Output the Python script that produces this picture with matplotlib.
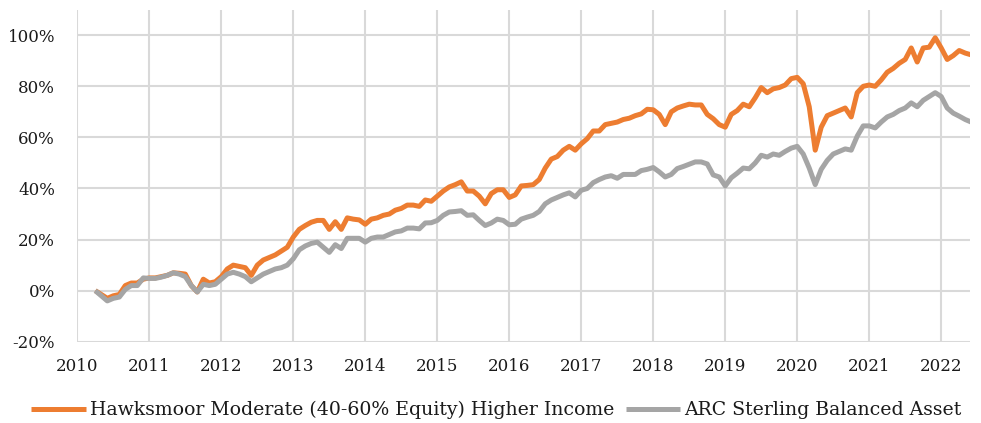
import matplotlib
matplotlib.use("Agg")
import matplotlib.pyplot as plt
import pandas as pd
import numpy as np

# Month-end dates, Mar 2010 .. May 2022
dates = pd.date_range("2010-03-31", "2022-05-31", freq="ME")

hawksmoor = [
    0, -1.5, -3, -2, -1.5, 2, 3, 3, 4.5, 5,              # Mar10-Dec10
    5, 5.5, 6, 7, 6.8, 6.5, 2, -0.5, 4.5, 3, 3.5, 5.5,   # 2011
    8.5, 10, 9.5, 9, 6, 10, 12, 13, 14, 15.5, 17, 21,    # 2012
    24, 25.5, 26.8, 27.5, 27.5, 24, 27, 24, 28.5, 28, 27.7, 26,  # 2013
    28, 28.5, 29.5, 30, 31.5, 32.2, 33.5, 33.5, 33, 35.5, 35, 37,  # 2014
    39, 40.6, 41.5, 42.6, 39, 39, 37, 34, 38, 39.5, 39.5, 36.5,    # 2015
    37.5, 41, 41.2, 41.5, 43.5, 48, 51.5, 52.5, 55, 56.5, 55, 57.5,  # 2016
    59.5, 62.5, 62.5, 65, 65.5, 66, 67, 67.5, 68.5, 69.2, 71, 70.8,  # 2017
    69, 65, 70, 71.5, 72.3, 73, 72.7, 72.7, 69, 67.3, 65, 64,        # 2018
    69, 70.5, 73, 72, 75.5, 79.5, 77.5, 79, 79.5, 80.5, 83, 83.5,    # 2019
    81, 72, 55, 64, 68.5, 69.5, 70.5, 71.5, 68, 77.5, 80, 80.5,      # 2020
    80, 82.5, 85.5, 87, 89, 90.5, 95, 89.5, 95, 95.3, 99, 95,        # 2021
    90.5, 92, 94, 93, 92.3,                                          # 2022
]

arc = [
    0, -2, -4, -3, -2.5, 0.5, 2, 2, 5, 4.8,                          # Mar10-Dec10
    4.8, 5.3, 6, 7, 6.5, 5.5, 2, -0.5, 2.5, 2, 2.5, 4.5,             # 2011
    6.5, 7.2, 6.5, 5.5, 3.5, 5, 6.5, 7.5, 8.5, 9, 10, 12.5,          # 2012
    16, 17.5, 18.5, 19, 17, 15, 18, 16.5, 20.5, 20.5, 20.5, 19,      # 2013
    20.5, 21, 21, 22, 23, 23.4, 24.5, 24.5, 24.2, 26.5, 26.6, 27.5,  # 2014
    29.5, 30.8, 31, 31.3, 29.5, 29.7, 27.5, 25.5, 26.5, 28, 27.5, 25.8,  # 2015
    26, 28, 28.8, 29.5, 31, 34, 35.5, 36.5, 37.5, 38.3, 36.7, 39.3,  # 2016
    40, 42.3, 43.5, 44.5, 45, 44, 45.5, 45.5, 45.5, 47, 47.5, 48.2,  # 2017
    46.5, 44.5, 45.5, 47.8, 48.6, 49.5, 50.4, 50.4, 49.6, 45.3, 44.5, 41,  # 2018
    44.2, 46, 48, 47.7, 50, 53, 52.3, 53.5, 53, 54.5, 55.8, 56.5,    # 2019
    53.5, 48, 41.5, 47.5, 51, 53.5, 54.5, 55.5, 55, 60.5, 64.5, 64.5,  # 2020
    63.7, 66, 68, 69, 70.5, 71.5, 73.5, 72, 74.5, 76, 77.5, 76,      # 2021
    71.5, 69.5, 68.3, 67, 66,                                        # 2022
]

series_names = ["Hawksmoor Moderate (40-60% Equity) Higher Income",
                "ARC Sterling Balanced Asset"]
colors = ["#ED7D31", "#A5A5A5"]
year_ticks = list(range(2010, 2023))
y_ticks = [-20, 0, 20, 40, 60, 80, 100]

x = dates.year + dates.month / 12.0

plt.rcParams["font.family"] = ["DejaVu Serif"]
fig = plt.figure(figsize=(9.81, 4.23), dpi=100)
ax = fig.add_axes([0.0788, 0.192, 0.910, 0.784])

for vals, name, c in zip([hawksmoor, arc], series_names, colors):
    ax.plot(x, vals, color=c, lw=3.6, label=name, solid_joinstyle="round",
            solid_capstyle="butt")

ax.set_xlim(2010, 2022.40)
ax.set_ylim(-20, 109.8)
ax.set_xticks(year_ticks)
ax.set_xticklabels([str(y) for y in year_ticks])
ax.set_yticks(y_ticks)
ax.set_yticklabels([f"{v}%" for v in y_ticks])
ax.grid(True, color="#D9D9D9", lw=1.5)
ax.set_axisbelow(True)
for s in ax.spines.values():
    s.set_visible(False)
ax.tick_params(axis="both", length=0, labelsize=12, colors="#1a1a1a")
ax.tick_params(axis="x", pad=12)
ax.tick_params(axis="y", pad=16)

leg = fig.legend(loc="center", bbox_to_anchor=(0.506, 0.03), ncol=2, frameon=False,
                 fontsize=13.6, handlelength=2.9, handletextpad=0.2,
                 columnspacing=0.6)
for t in leg.get_texts():
    t.set_color("#1a1a1a")

fig.savefig("out.png", dpi=100)
